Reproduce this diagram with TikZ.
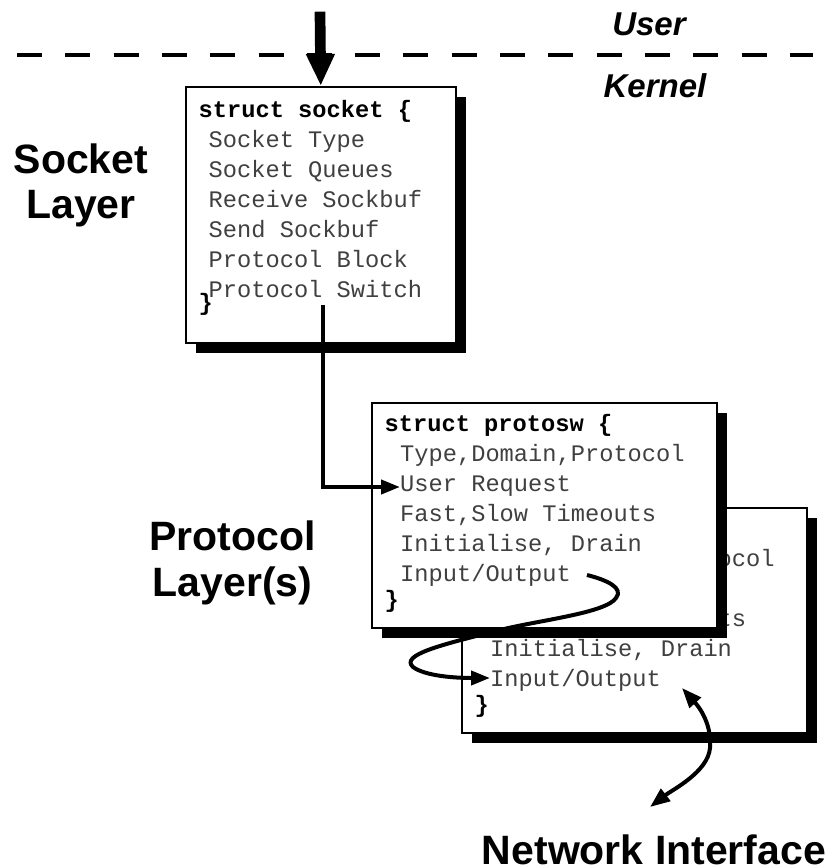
\documentclass[tikz,border=0pt]{standalone}
\usepackage{fontspec}
\newfontfamily\labfont{Liberation Sans}
\newfontfamily\codefont{Liberation Mono}
\usetikzlibrary{arrows.meta,shadows}

\tikzset{
  lab/.style={font=\labfont\bfseries\fontsize{41}{45}\selectfont, anchor=base, inner sep=0pt},
  labit/.style={font=\labfont\bfseries\itshape\fontsize{33}{36}\selectfont, anchor=base, inner sep=0pt},
  code/.style={font=\codefont\fontsize{23.7}{30}\selectfont, anchor=base west, inner sep=0pt, text=black!75},
  codeb/.style={font=\codefont\bfseries\fontsize{23.7}{30}\selectfont, anchor=base west, inner sep=0pt},
  structbox/.style={draw=black, line width=1.5pt, fill=white, anchor=north west, inner sep=0pt,
    drop shadow={fill=black, opacity=1, shadow xshift=10pt, shadow yshift=-10pt}},
  conn/.style={line width=4pt},
  smalltip/.style={-{Triangle[length=19pt,width=14pt]}},
  protopic/.pic={
    \node[structbox, minimum width=345pt, minimum height=225pt] (-box) at (0,0) {};
    \node[codeb] (-h) at (13.5,29.7) {struct protosw \{};
    \node[code] (-t1) at (29,59.7) {Type,Domain,Protocol};
    \node[code] (-t2) at (29,89.7) {User Request};
    \node[code] (-t3) at (29,119.7) {Fast,Slow Timeouts};
    \node[code] (-t4) at (29,149.7) {Initialise, Drain};
    \node[code] (-t5) at (29,179.7) {Input/Output};
    \node[codeb] (-c) at (13.5,205.5) {\}};
  }
}

\begin{document}
\begin{tikzpicture}[x=1pt,y=-1pt]
\useasboundingbox (0,0) rectangle (831,868);

% user / kernel boundary
\draw[line width=3.5pt, dash pattern=on 25pt off 23.3pt] (17,55) -- (813,55);
\node[labit] (user) at (649,35) {User};
\node[labit] (kernel) at (655,97) {Kernel};

% socket layer
\node[structbox, minimum width=270pt, minimum height=256pt] (sock) at (185,86) {};
\node[codeb] (sh) at (198.5,117) {struct socket \{};
\node[code] (s1) at (208.5,147) {Socket Type};
\node[code] (s2) at (208.5,177) {Socket Queues};
\node[code] (s3) at (208.5,207) {Receive Sockbuf};
\node[code] (s4) at (208.5,237) {Send Sockbuf};
\node[code] (s5) at (208.5,267) {Protocol Block};
\node[code] (s6) at (208.5,297) {Protocol Switch};
\node[codeb] (sc) at (198.5,310) {\}};

\coordinate (usr) at (320,11.7);
\draw[line width=10.7pt, -{Triangle[length=32pt,width=26.7pt]}] (usr) -- (sock.north);

\node[lab] (sl1) at (81,173) {Socket};
\node[lab] (sl2) at (81,218) {Layer};

% protocol layers
\pic (back) at (461,507) {protopic};
\pic (front) at (371,402) {protopic};

\node[lab] (pl1) at (232.5,550) {Protocol};
\node[lab] (pl2) at (232.5,596) {Layer(s)};

\node[lab] (net) at (654,864.5) {Network Interface};

% connectors
\coordinate (ps) at (323,305);
\coordinate (urtip) at (400,487);
\draw[conn, smalltip] (ps) |- (urtip);

\coordinate (io1) at (587,575);
\coordinate (io2) at (490,678);
\draw[conn, smalltip] (io1) .. controls (607,580) and (624,588) .. (616,598)
  .. controls (606,613) and (540,620) .. (500,630)
  .. controls (440,645) and (400,655) .. (413,667)
  .. controls (425,676) and (455,678) .. (io2);

\coordinate (io3) at (682,688);
\coordinate (ni) at (650,807);
\draw[conn, {Triangle[length=20pt,width=15pt]}-{Triangle[length=20pt,width=15pt]}]
  (io3) .. controls (700,708) and (712,725) .. (710,748)
  .. controls (708,772) and (672,790) .. (ni);
\end{tikzpicture}
\end{document}
